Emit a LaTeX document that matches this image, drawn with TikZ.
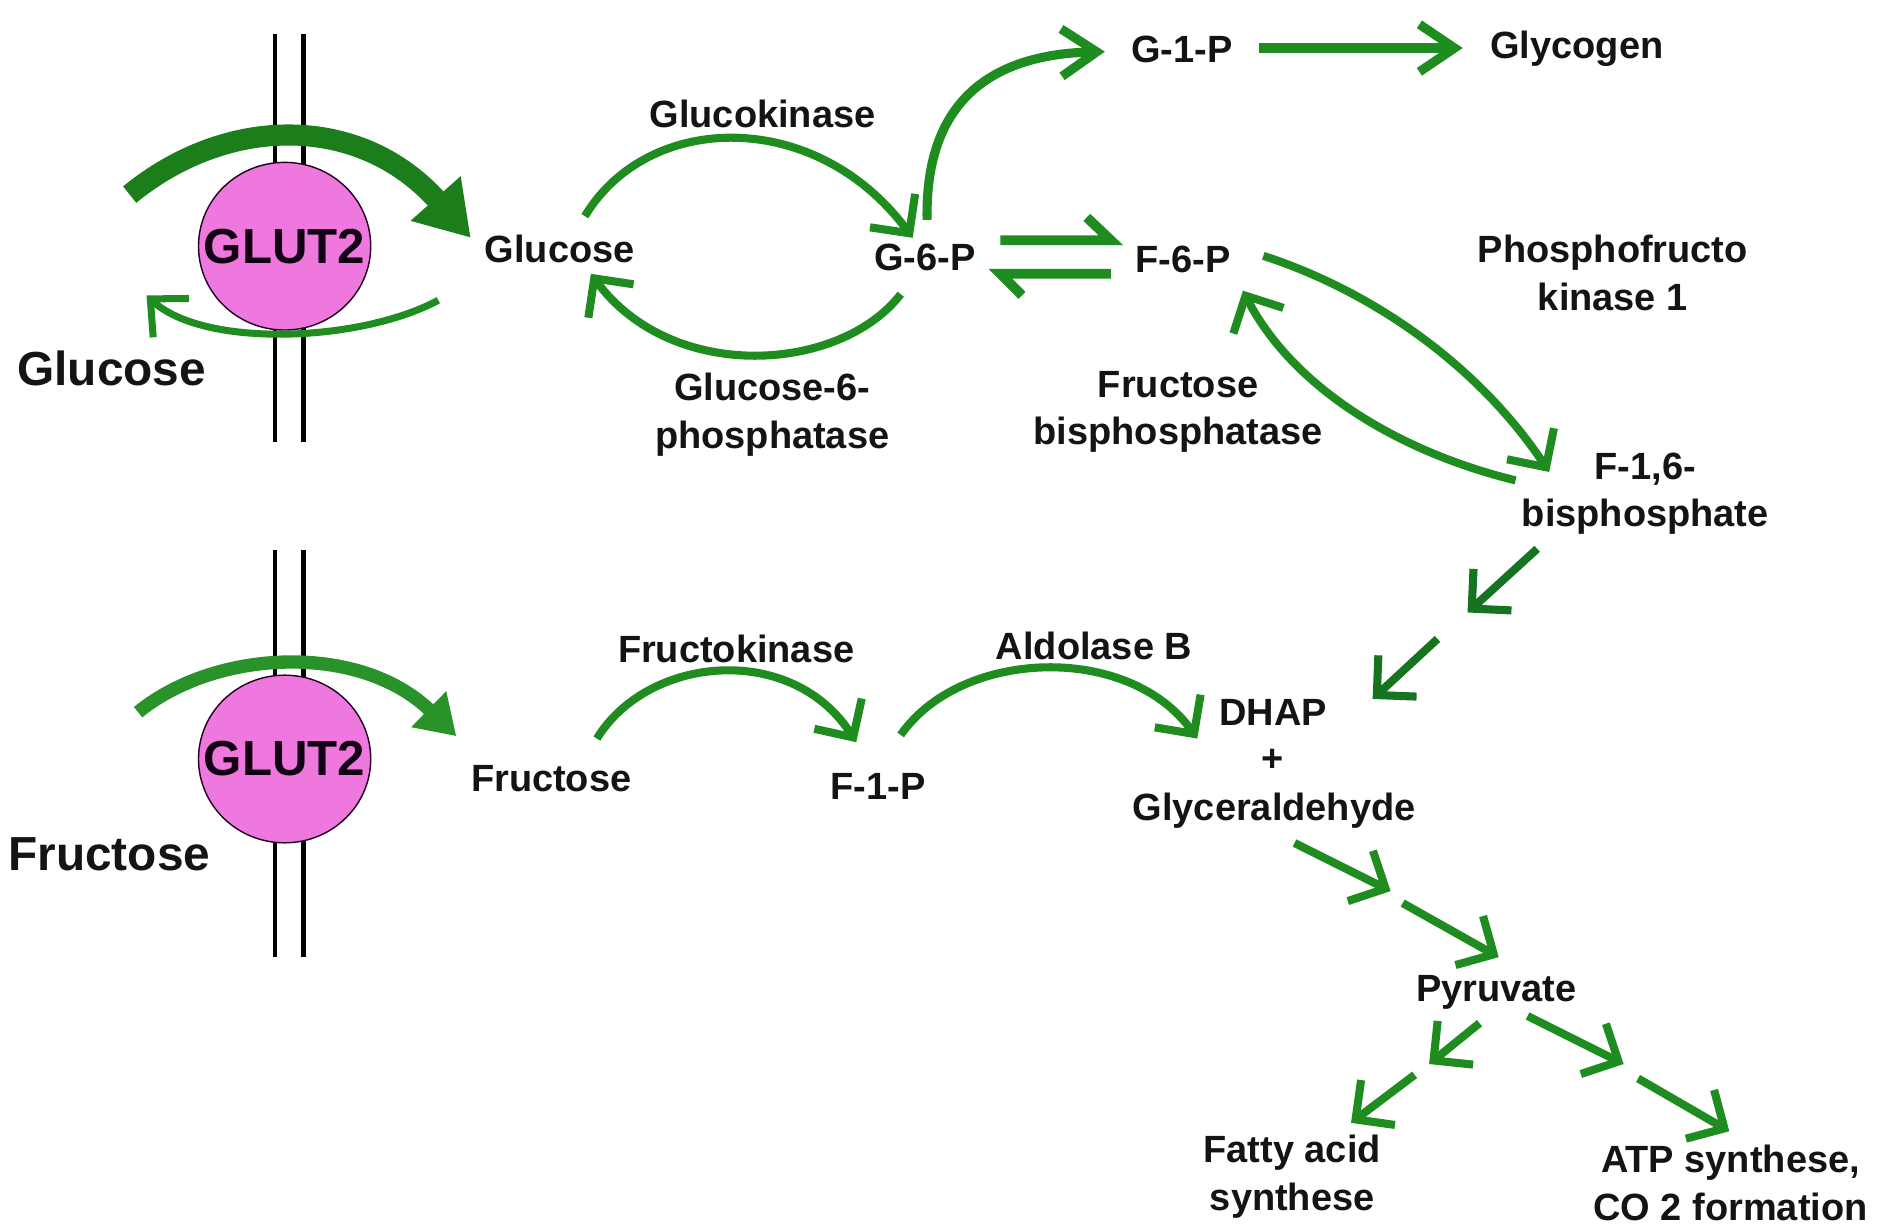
\documentclass[tikz,border=0pt]{standalone}
\usepackage{fontspec}
\setmainfont{Liberation Sans}
\usetikzlibrary{arrows.meta,shapes.geometric}
\definecolor{grn}{RGB}{30,140,30}
\definecolor{dgrn}{RGB}{22,115,32}
\definecolor{pinkc}{RGB}{238,120,222}
\definecolor{txt}{RGB}{20,20,20}
\begin{document}
\begin{tikzpicture}[x=0.012009cm,y=-0.012009cm,
  lbl/.style={font=\fontsize{10.8}{13.6}\selectfont\bfseries, text=txt, inner sep=0pt, align=center},
  big/.style={font=\fontsize{13.6}{16}\selectfont\bfseries, text=txt, inner sep=0pt},
  glut/.style={ellipse, draw=black!75!violet, line width=0.4pt, fill=pinkc, minimum width=49pt, minimum height=47.7pt, inner sep=0pt},
  gluttxt/.style={font=\fontsize{14}{16}\selectfont\bfseries, text=black!85!violet, inner sep=0pt},
  memb/.style={draw=black, line width=1.4pt},
  arr/.style={draw=grn, line width=2.3pt, -{Straight Barb[length=8pt,width=16pt,sharp]}},
  darr/.style={draw=dgrn, line width=2.3pt, -{Straight Barb[length=8pt,width=16pt,sharp]}},
  longarr/.style={draw=grn, line width=2.6pt, -{Straight Barb[length=10pt,width=13.5pt,sharp]}},
  harp/.style={draw=grn, line width=2.8pt, line join=miter},
  bigarr/.style={draw=grn!90!black, line width=6pt, -{Triangle[length=15pt,width=18pt]}},
  midarr/.style={draw=grn!95!white, line width=3.8pt, -{Triangle[length=11pt,width=13.5pt]}},
  effarr/.style={draw=grn, line width=2pt, -{Straight Barb[length=8pt,width=15pt,sharp]}}
]
\useasboundingbox (0,0) rectangle (1568,1020);
\fill[white] (0,0) rectangle (1568,1020);

% ---------- membranes ----------
\draw[memb] (229,28) -- (229,368);
\draw[memb] (253,28) -- (253,368);
\draw[memb] (229,458) -- (229,797);
\draw[memb] (253,458) -- (253,797);

% ---------- transporters ----------
\node[glut] (glutA) at (237,205) {};
\node[gluttxt] at (glutA.center) {GLUT2};
\node[glut] (glutB) at (237,632) {};
\node[gluttxt] at (glutB.center) {GLUT2};

% ---------- labels ----------
\node[big] (glcout) at (93,307) {Glucose};
\node[big] (fruout) at (91,711) {Fructose};
\node[lbl] (glcin) at (466,207) {Glucose};
\node[lbl] (gk) at (635,95) {Glucokinase};
\node[lbl] (g6p) at (770,214) {G-6-P};
\node[lbl] (g6pase) at (643,345) {Glucose-6-\\phosphatase};
\node[lbl] (g1p) at (984,41) {G-1-P};
\node[lbl] (glycogen) at (1313,41) {Glycogen};
\node[lbl] (f6p) at (985,216) {F-6-P};
\node[lbl] (pfk) at (1343,227) {Phosphofructo\\kinase 1};
\node[lbl] (fbp) at (981,343) {Fructose\\bisphosphatase};
\node[lbl] (f16) at (1370,411) {F-1,6-\\bisphosphate};
\node[lbl] (fruin) at (459,648) {Fructose};
\node[lbl] (fk) at (613,540) {Fructokinase};
\node[lbl] (f1p) at (731,655) {F-1-P};
\node[lbl] (aldo) at (911,538) {Aldolase B};
\node[lbl] (dhap) at (1060,593) {DHAP};
\node[lbl] (plus) at (1060,633) {+};
\node[lbl] (glyc) at (1061,675) {Glyceraldehyde};
\node[lbl] (pyr) at (1246,826) {Pyruvate};
\node[lbl] (fa) at (1076,980) {Fatty acid\\synthese};
\node[lbl] (atp) at (1441,985) {ATP synthese,\\CO 2 formation};

% ---------- connector end points ----------
\coordinate (inA0) at (108,162);   \coordinate (inA1) at (392,198);
\coordinate (outA0) at (365,250);  \coordinate (outA1) at (122,246);
\coordinate (inB0) at (115,593);   \coordinate (inB1) at (380,613);
\coordinate (gk0) at (487,180);    \coordinate (gk1) at (760,198);
\coordinate (gp0) at (750,245);    \coordinate (gp1) at (492,228);
\coordinate (g1a) at (772,183);    \coordinate (g1b) at (920,43);
\coordinate (gy0) at (1048,40);    \coordinate (gy1) at (1218,40);
\coordinate (hu0) at (833,200);    \coordinate (hu1) at (925,200);  \coordinate (hu2) at (905,181);
\coordinate (hl0) at (925,228);    \coordinate (hl1) at (833,228);  \coordinate (hl2) at (851,246);
\coordinate (pf0) at (1052,213);   \coordinate (pf1) at (1290,393);
\coordinate (fb0) at (1262,400);   \coordinate (fb1) at (1035,242);
\coordinate (fk0) at (497,615);    \coordinate (fk1) at (713,618);
\coordinate (al0) at (750,612);    \coordinate (al1) at (997,615);
\coordinate (d1a) at (1280,457);   \coordinate (d1b) at (1222,510);
\coordinate (d2a) at (1197,532);   \coordinate (d2b) at (1143,582);
\coordinate (p1a) at (1078,702);   \coordinate (p1b) at (1158,742);
\coordinate (p2a) at (1168,752);   \coordinate (p2b) at (1248,797);
\coordinate (fa1a) at (1232,852);  \coordinate (fa1b) at (1190,886);
\coordinate (fa2a) at (1178,895);  \coordinate (fa2b) at (1125,935);
\coordinate (at1a) at (1272,846);  \coordinate (at1b) at (1352,886);
\coordinate (at2a) at (1364,898);  \coordinate (at2b) at (1440,942);

% ---------- transport arrows ----------
\draw[bigarr] (inA0) .. controls (190,95) and (300,95) .. (inA1);
\draw[effarr] (outA0) .. controls (300,285) and (170,290) .. (outA1);
\draw[midarr] (inB0) .. controls (180,540) and (300,535) .. (inB1);

% ---------- glucose branch ----------
\draw[arr] (gk0) .. controls (540,92) and (680,90) .. (gk1);
\draw[arr] (gp0) .. controls (700,310) and (560,320) .. (gp1);
\draw[longarr] (g1a) .. controls (770,80) and (830,45) .. (g1b);
\draw[longarr] (gy0) -- (gy1);
\draw[harp] (hu0) -- (hu1) -- (hu2);
\draw[harp] (hl0) -- (hl1) -- (hl2);
\draw[arr] (pf0) .. controls (1150,245) and (1235,310) .. (pf1);
\draw[arr] (fb0) .. controls (1160,375) and (1075,320) .. (fb1);
\draw[darr] (d1a) -- (d1b);
\draw[darr] (d2a) -- (d2b);

% ---------- fructose branch ----------
\draw[arr] (fk0) .. controls (540,545) and (660,535) .. (fk1);
\draw[arr] (al0) .. controls (800,540) and (940,535) .. (al1);
\draw[arr] (p1a) -- (p1b);
\draw[arr] (p2a) -- (p2b);
\draw[arr] (fa1a) -- (fa1b);
\draw[arr] (fa2a) -- (fa2b);
\draw[arr] (at1a) -- (at1b);
\draw[arr] (at2a) -- (at2b);
\end{tikzpicture}
\end{document}
